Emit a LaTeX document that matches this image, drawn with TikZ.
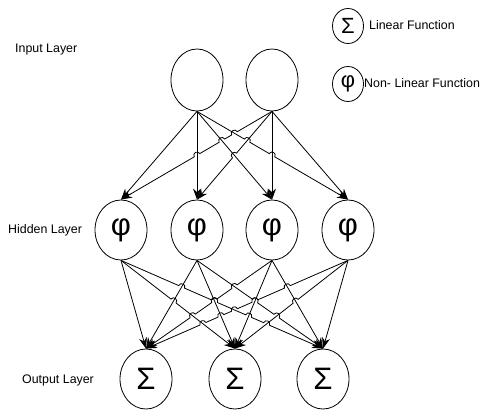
\documentclass[tikz,border=0pt]{standalone}
\usepackage{fontspec}
\setmainfont{Liberation Sans}
\usetikzlibrary{intersections,calc,arrows.meta,shapes.geometric}
\def\jr{3.2pt}
\newcommand\drawlayer[2]{%
  \foreach \s/\d/\b [count=\k] in {#2}{%
    \coordinate (#1a\k) at ($(\s.south)!0.04!(\d.north)$);
    \coordinate (#1b\k) at ($(\s.south)!0.96!(\d.north)$);
    \edef\pa{#1P\k}\edef\pb{#1U\k}\edef\px{#1X\k}%
    \path[name path global=\pa] (#1a\k) -- (#1b\k);
    \ifnum\k=1
      \draw[conn] (\s.south) -- (\d.north);
    \else
      \pgfmathtruncatemacro\km{\k-1}%
      \path[name path global=\pb] \foreach \j in {1,...,\km}{(#1a\j) -- (#1b\j)};
      \edef\opts{name intersections={of=\pa\space and \pb, name=\px, total=\noexpand\nint, sort by=\pa}}%
      \expandafter\path\expandafter[\opts] \pgfextra{\xdef\tot{\nint}};
      \ifnum\tot>0
        \draw[conn] (\s.south) \foreach \i in {1,...,\tot}{ -- ($(\px-\i)!\jr!(\s.south)$) to[bend \b=90,looseness=1.7] ($(\px-\i)!-\jr!(\s.south)$)} -- (\d.north);
      \else
        \draw[conn] (\s.south) -- (\d.north);
      \fi
    \fi
  }%
}
\begin{document}
\begin{tikzpicture}[x=1pt,y=-1pt,
  neuron/.style={ellipse, draw, line width=0.8pt, inner sep=0pt, minimum width=52pt, minimum height=60pt, font=\fontsize{31}{31}\selectfont},
  legendnode/.style={ellipse, draw, line width=0.8pt, inner sep=0pt, minimum width=31pt, minimum height=35pt, font=\fontsize{22}{22}\selectfont},
  lbl/.style={anchor=west, inner sep=0pt, font=\fontsize{12.4}{14}\selectfont},
  conn/.style={line width=0.8pt, -{Stealth[length=11pt,width=8pt]}}]
\useasboundingbox (0,0) rectangle (481,412);
% legend
\node[legendnode] (LS) at (348,26) {Σ};
\node[legendnode] (LP) at (348,84) {φ};
\node[lbl] (LSt) at (369,25) {Linear Function};
\node[lbl] (LPt) at (364,83) {Non- Linear Function};
% layer labels
\node[lbl] (Lin) at (15,50) {Input Layer};
\node[lbl] (Lhid) at (8,230) {Hidden Layer};
\node[lbl] (Lout) at (22,380) {Output Layer};
% neurons
\node[neuron, minimum height=62pt] (I1) at (197,80) {};
\node[neuron, minimum height=62pt] (I2) at (272,80) {};
\node[neuron] (H1) at (121,230) {φ};
\node[neuron] (H2) at (197,230) {φ};
\node[neuron] (H3) at (272,230) {φ};
\node[neuron] (H4) at (348,230) {φ};
\node[neuron] (O1) at (146,379) {Σ};
\node[neuron] (O2) at (235,379) {Σ};
\node[neuron] (O3) at (323,379) {Σ};
% connectors
\drawlayer{t}{I1/H2/left, I2/H3/left, I1/H3/left, I2/H2/right, I1/H1/right, I2/H4/left, I1/H4/left, I2/H1/right}
\drawlayer{b}{H1/O1/left, H4/O3/right, H3/O2/right, H2/O2/left, H2/O1/right, H3/O3/left, H4/O2/right, H1/O2/left, H2/O3/left, H3/O1/right, H1/O3/left, H4/O1/right}
\end{tikzpicture}
\end{document}
